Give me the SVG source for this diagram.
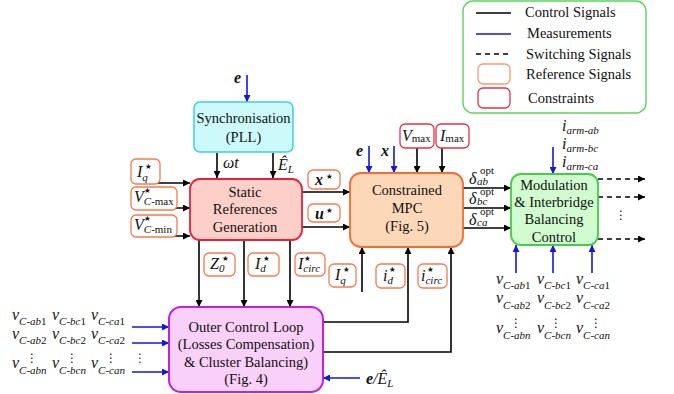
<svg xmlns="http://www.w3.org/2000/svg" width="674" height="394" viewBox="0 0 674 394">
  <style>
    .t{font-family:"Liberation Serif","Times New Roman",serif;font-size:14.5px;fill:#111}
    .c{text-anchor:middle}
    .m{font-family:"Liberation Serif","Times New Roman",serif;font-style:italic;font-size:16px;fill:#111}
    .bi{font-weight:bold;font-style:italic}
    .s{font-size:11px}
    .up{font-style:normal}
    .st{font-family:"DejaVu Sans",sans-serif;font-size:7.5px;fill:#111}
    .dots{font-family:"DejaVu Sans",sans-serif;font-size:12px;fill:#111}
    .k{stroke:#000;stroke-width:1.6;fill:none;marker-end:url(#ak)}
    .bl{stroke:#1414e6;stroke-width:1.6;fill:none;marker-end:url(#ab)}
    .d{stroke:#000;stroke-width:1.6;fill:none;stroke-dasharray:5 4;marker-end:url(#ak)}
    .ref{fill:#fff;stroke:#f87a50;stroke-width:1.3}
    .con{fill:#fff;stroke:#e8304c;stroke-width:1.3}
  </style>
  <defs>
    <marker id="ak" viewBox="0 0 10 10" refX="10" refY="5" markerWidth="8" markerHeight="7" orient="auto" markerUnits="userSpaceOnUse">
      <path d="M0,0 L10,5 L0,10 z" fill="#000"/>
    </marker>
    <marker id="ab" viewBox="0 0 10 10" refX="10" refY="5" markerWidth="8" markerHeight="7" orient="auto" markerUnits="userSpaceOnUse">
      <path d="M0,0 L10,5 L0,10 z" fill="#1414e6"/>
    </marker>
  </defs>

  <!-- legend -->
  <g id="legend">
    <rect x="463" y="1" width="183" height="112" rx="10" fill="#fff" stroke="#5cd35c" stroke-width="1.4"/>
    <line x1="476" y1="13" x2="511" y2="13" stroke="#000" stroke-width="1.6"/>
    <line x1="476" y1="34" x2="511" y2="34" stroke="#1414e6" stroke-width="1.6"/>
    <line x1="476" y1="54" x2="511" y2="54" stroke="#000" stroke-width="1.6" stroke-dasharray="5 4"/>
    <rect x="478" y="64" width="32" height="20" rx="5" fill="#fff" stroke="#f89a70" stroke-width="1.3"/>
    <rect x="478" y="88" width="32" height="20" rx="5" fill="#fff" stroke="#e8304c" stroke-width="1.3"/>
    <text class="t" x="525" y="17">Control Signals</text>
    <text class="t" x="527" y="38">Measurements</text>
    <text class="t" x="526" y="59">Switching Signals</text>
    <text class="t" x="526" y="79">Reference Signals</text>
    <text class="t" x="528" y="103">Constraints</text>
  </g>

  <!-- connectors -->
  <g id="connectors">
    <path class="bl" d="M247,75 V102"/>
    <path class="k" d="M217,153 V178"/>
    <path class="k" d="M273,153 V178"/>
    <path class="k" d="M157,183 H190"/>
    <path class="k" d="M157,208 H190"/>
    <path class="k" d="M157,236 H190"/>
    <path class="k" d="M302,192 H350"/>
    <path class="k" d="M302,227 H350"/>
    <path class="bl" d="M369,146 V173"/>
    <path class="bl" d="M394,146 V173"/>
    <path class="k" d="M417,148 V173"/>
    <path class="k" d="M442,148 V173"/>
    <path class="k" d="M463,188 H511"/>
    <path class="k" d="M463,208 H511"/>
    <path class="k" d="M463,228 H511"/>
    <path class="d" d="M598,179 H645"/>
    <path class="d" d="M598,197 H645"/>
    <path class="d" d="M598,239 H645"/>
    <path class="bl" d="M553,147 V174"/>
    <path class="bl" d="M516,273 V245"/>
    <path class="bl" d="M553,273 V245"/>
    <path class="bl" d="M592,273 V245"/>
    <path class="k" d="M199,240 V307"/>
    <path class="k" d="M244,240 V307"/>
    <path class="k" d="M290,240 V307"/>
    <path class="k" d="M362,292 V247"/>
    <path class="k" d="M323,322 H408 V247"/>
    <path class="k" d="M323,352 H451 V247"/>
    <path class="bl" d="M132,327 H169"/>
    <path class="bl" d="M132,343 H169"/>
    <path class="bl" d="M132,372 H169"/>
    <path class="bl" d="M360,378 H323"/>
  </g>

  <!-- blocks -->
  <g id="sync">
    <rect x="194" y="102" width="99" height="50" rx="6" fill="#ccfafa" stroke="#3ed0e0" stroke-width="1.5"/>
    <text class="t c" x="243.5" y="123">Synchronisation</text>
    <text class="t c" x="243.5" y="142">(PLL)</text>
  </g>
  <g id="static-ref">
    <rect x="190" y="179" width="112" height="61" rx="10" fill="#fcd0c8" stroke="#e8203a" stroke-width="1.8"/>
    <text class="t c" x="245" y="197">Static</text>
    <text class="t c" x="245" y="214">References</text>
    <text class="t c" x="245" y="232">Generation</text>
  </g>
  <g id="mpc">
    <rect x="350" y="173" width="113" height="74" rx="11" fill="#fcd8b8" stroke="#f86a30" stroke-width="1.8"/>
    <text class="t c" x="407" y="195">Constrained</text>
    <text class="t c" x="407" y="213">MPC</text>
    <text class="t c" x="407" y="231">(Fig. 5)</text>
  </g>
  <g id="modulation">
    <rect x="511" y="174" width="87" height="71" rx="10" fill="#d0fcd0" stroke="#44cc44" stroke-width="1.8"/>
    <text class="t c" x="554" y="190">Modulation</text>
    <text class="t c" x="554" y="207">&amp; Interbridge</text>
    <text class="t c" x="554" y="224">Balancing</text>
    <text class="t c" x="554" y="242">Control</text>
  </g>
  <g id="outer-loop">
    <rect x="169" y="307" width="154" height="85" rx="12" fill="#f8d0f8" stroke="#c020e0" stroke-width="2"/>
    <text class="t c" x="246" y="332">Outer Control Loop</text>
    <text class="t c" x="246" y="349">(Losses Compensation)</text>
    <text class="t c" x="246" y="367">&amp; Cluster Balancing)</text>
    <text class="t c" x="246" y="384">(Fig. 4)</text>
  </g>

  <!-- reference signals -->
  <g id="ref-iq-in">
    <rect class="ref" x="131" y="159" width="29" height="25" rx="5"/>
    <text class="m" x="137" y="177">I<tspan class="s" dy="4">q</tspan></text>
    <text class="st" x="145" y="169">★</text>
  </g>
  <g id="ref-vmax">
    <rect class="ref" x="131" y="187" width="46" height="23" rx="5"/>
    <text class="m" x="134" y="202">V<tspan class="s" dy="3">C</tspan><tspan class="s up">-max</tspan></text>
    <text class="st" x="144" y="193">★</text>
  </g>
  <g id="ref-vmin">
    <rect class="ref" x="131" y="215" width="46" height="22" rx="5"/>
    <text class="m" x="134" y="230">V<tspan class="s" dy="3">C</tspan><tspan class="s up">-min</tspan></text>
    <text class="st" x="144" y="221">★</text>
  </g>
  <g id="ref-x">
    <rect class="ref" x="308" y="170" width="32" height="19" rx="5"/>
    <text class="m bi" x="315" y="185">x</text>
    <text class="st" x="326" y="179">★</text>
  </g>
  <g id="ref-u">
    <rect class="ref" x="308" y="204" width="32" height="18" rx="5"/>
    <text class="m bi" x="315" y="219">u</text>
    <text class="st" x="326" y="213">★</text>
  </g>
  <g id="ref-z0">
    <rect class="ref" x="204" y="253" width="31" height="23" rx="5"/>
    <text class="m" x="210" y="269">Z<tspan class="s" dy="3">0</tspan></text>
    <text class="st" x="222" y="261">★</text>
  </g>
  <g id="ref-id">
    <rect class="ref" x="248" y="253" width="31" height="23" rx="5"/>
    <text class="m" x="255" y="269">I<tspan class="s" dy="3">d</tspan></text>
    <text class="st" x="263" y="261">★</text>
  </g>
  <g id="ref-icirc">
    <rect class="ref" x="295" y="253" width="30" height="23" rx="5"/>
    <text class="m" x="298" y="269">I<tspan class="s" dy="3">circ</tspan></text>
    <text class="st" x="304" y="261">★</text>
  </g>
  <g id="ref-iq">
    <rect class="ref" x="329" y="264" width="27" height="23" rx="5"/>
    <text class="m" x="335" y="280">I<tspan class="s" dy="4">q</tspan></text>
    <text class="st" x="343" y="272">★</text>
  </g>
  <g id="ref-id-small">
    <rect class="ref" x="376" y="264" width="29" height="24" rx="5"/>
    <text class="m" x="383" y="281">i<tspan class="s" dy="3">d</tspan></text>
    <text class="st" x="389" y="272">★</text>
  </g>
  <g id="ref-icirc-small">
    <rect class="ref" x="418" y="264" width="29" height="24" rx="5"/>
    <text class="m" x="421" y="281">i<tspan class="s" dy="3">circ</tspan></text>
    <text class="st" x="427" y="272">★</text>
  </g>

  <!-- constraints -->
  <g id="con-vmax">
    <rect class="con" x="400" y="124" width="34" height="24" rx="5"/>
    <text class="m" x="402" y="141">V<tspan class="s up" dy="1">max</tspan></text>
  </g>
  <g id="con-imax">
    <rect class="con" x="436" y="124" width="33" height="24" rx="5"/>
    <text class="m" x="440" y="141">I<tspan class="s up" dy="1">max</tspan></text>
  </g>

  <!-- signal labels -->
  <g id="labels">
    <text class="m bi" x="234" y="83">e</text>
    <text class="m" x="223" y="168">ωt</text>
    <text class="m" x="278" y="170">Ê<tspan class="s" dy="3">L</tspan></text>
    <text class="m bi" x="356" y="156">e</text>
    <text class="m bi" x="381" y="156">x</text>

    <text class="m" x="469" y="184">δ</text>
    <text class="m s up" x="480" y="174">opt</text>
    <text class="m s" x="477" y="185">ab</text>
    <text class="m" x="469" y="204">δ</text>
    <text class="m s up" x="480" y="194.5">opt</text>
    <text class="m s" x="477" y="205">bc</text>
    <text class="m" x="469" y="225">δ</text>
    <text class="m s up" x="480" y="215">opt</text>
    <text class="m s" x="477" y="226">ca</text>

    <text class="m" x="562" y="131">i<tspan class="s" dy="3">arm-ab</tspan></text>
    <text class="m" x="562" y="149">i<tspan class="s" dy="3">arm-bc</tspan></text>
    <text class="m" x="562" y="167">i<tspan class="s" dy="3">arm-ca</tspan></text>

    <!-- capacitor voltages feeding the modulator -->
    <text class="m" x="496" y="284">v<tspan class="s" dy="5">C-ab</tspan><tspan class="s up">1</tspan></text>
    <text class="m" x="537" y="284">v<tspan class="s" dy="5">C-bc</tspan><tspan class="s up">1</tspan></text>
    <text class="m" x="576" y="284">v<tspan class="s" dy="5">C-ca</tspan><tspan class="s up">1</tspan></text>
    <text class="m" x="496" y="303">v<tspan class="s" dy="6">C-ab</tspan><tspan class="s up">2</tspan></text>
    <text class="m" x="537" y="303">v<tspan class="s" dy="6">C-bc</tspan><tspan class="s up">2</tspan></text>
    <text class="m" x="576" y="303">v<tspan class="s" dy="6">C-ca</tspan><tspan class="s up">2</tspan></text>
    <text class="dots" x="510" y="327">⋮</text>
    <text class="dots" x="550" y="327">⋮</text>
    <text class="dots" x="590" y="327">⋮</text>
    <text class="m" x="496" y="333">v<tspan class="s" dy="6">C-abn</tspan></text>
    <text class="m" x="537" y="333">v<tspan class="s" dy="6">C-bcn</tspan></text>
    <text class="m" x="576" y="333">v<tspan class="s" dy="6">C-can</tspan></text>

    <!-- capacitor voltages feeding the outer loop -->
    <text class="m" x="12" y="320">v<tspan class="s" dy="5">C-ab</tspan><tspan class="s up">1</tspan></text>
    <text class="m" x="52" y="320">v<tspan class="s" dy="5">C-bc</tspan><tspan class="s up">1</tspan></text>
    <text class="m" x="91" y="320">v<tspan class="s" dy="5">C-ca</tspan><tspan class="s up">1</tspan></text>
    <text class="m" x="12" y="339">v<tspan class="s" dy="5">C-ab</tspan><tspan class="s up">2</tspan></text>
    <text class="m" x="52" y="339">v<tspan class="s" dy="5">C-bc</tspan><tspan class="s up">2</tspan></text>
    <text class="m" x="91" y="339">v<tspan class="s" dy="5">C-ca</tspan><tspan class="s up">2</tspan></text>
    <text class="dots" x="26" y="362">⋮</text>
    <text class="dots" x="66" y="362">⋮</text>
    <text class="dots" x="105" y="362">⋮</text>
    <text class="dots" x="134" y="362" style="fill:#1414e6">⋮</text>
    <text class="m" x="12" y="368">v<tspan class="s" dy="6">C-abn</tspan></text>
    <text class="m" x="52" y="368">v<tspan class="s" dy="6">C-bcn</tspan></text>
    <text class="m" x="91" y="368">v<tspan class="s" dy="6">C-can</tspan></text>

    <text class="dots" x="615" y="219">⋮</text>

    <text class="m" x="366" y="384"><tspan class="bi">e</tspan>/Ê<tspan class="s" dy="3">L</tspan></text>
  </g>
</svg>
